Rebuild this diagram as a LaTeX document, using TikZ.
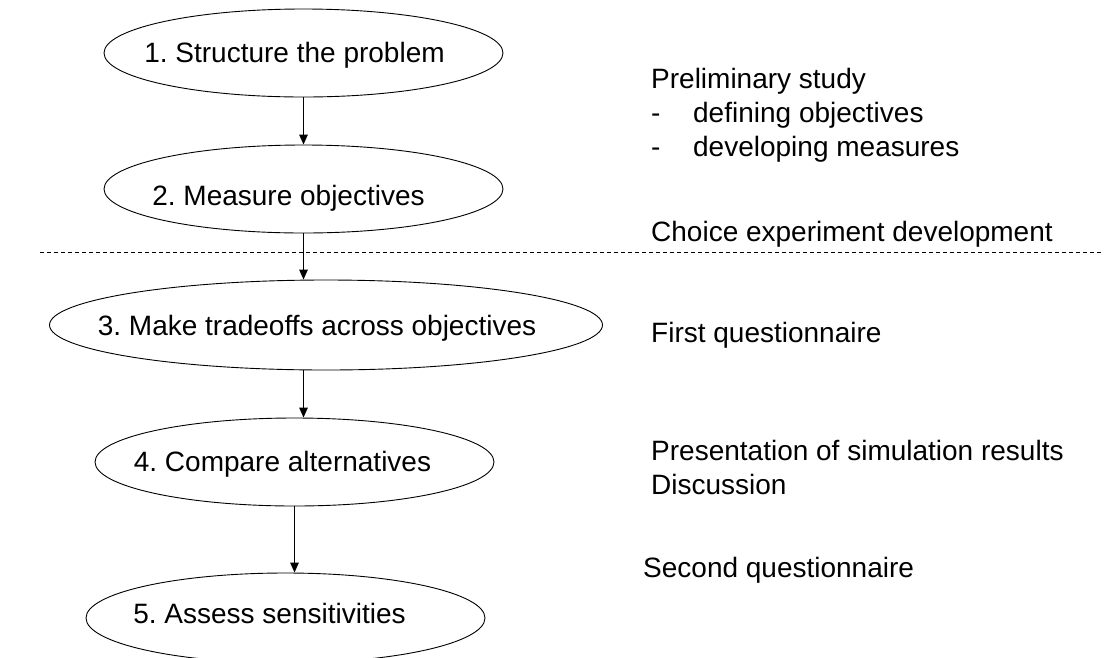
\documentclass[tikz,border=0pt]{standalone}
\usepackage{fontspec}
\setmainfont{Liberation Sans}
\usetikzlibrary{shapes.geometric,arrows.meta}
\frenchspacing
\tikzset{
	stage/.style={ellipse, draw, line width=0.9pt, minimum width=399pt, minimum height=88pt, inner sep=0pt},
	note/.style={anchor=west, align=left, inner sep=0pt},
	flow/.style={-{Triangle[length=10pt,width=8.5pt]}, line width=1.4pt}
}
\begin{document}
\begin{tikzpicture}[x=1pt, y=-1pt, font=\fontsize{28}{34}\selectfont]
	\useasboundingbox (0,0) rectangle (1104,657);

	\node(s1) [stage, label={[xshift=-9pt, yshift=-2pt]center:1. Structure the problem}] at (303.5,53) {};
	\node(s2) [stage, label={[xshift=-15pt, yshift=-9pt]center:2. Measure objectives}] at (303.5,189) {};
	\node(s3) [stage, minimum width=553pt, minimum height=90pt, label={[xshift=-9pt, yshift=-3pt]center:3. Make tradeoffs across objectives}] at (326,325) {};
	\node(s4) [stage, label={[xshift=-12pt, yshift=-2pt]center:4. Compare alternatives}] at (294.5,462) {};
	\node(s5) [stage, minimum height=90pt, label={[xshift=-16pt, yshift=5pt]center:5. Assess sensitivities}] at (285.5,618) {};

	\node(prelim) [note] at (651,115) {Preliminary study\\ \makebox[42pt][l]{-}defining objectives\\ \makebox[42pt][l]{-}developing measures};
	\node(choice) [note] at (651,234) {Choice experiment development};
	\node(first) [note] at (651,335) {First questionnaire};
	\node(present) [note] at (651,467) {Presentation of simulation results\\Discussion};
	\node(second) [note] at (643,570) {Second questionnaire};

	\coordinate(dl) at (40,252);
	\coordinate(dr) at (1104,252);
	\draw[dash pattern=on 4pt off 3pt, line width=1pt] (dl) -- (dr);

	\draw[flow] (s1) -- (s2);
	\draw[flow] (s2) -- (s2 |- s3.north);
	\draw[flow] (s3.south -| s2) -- (s2 |- s4.north);
	\draw[flow] (s4) -- (s4 |- s5.north);
\end{tikzpicture}
\end{document}
